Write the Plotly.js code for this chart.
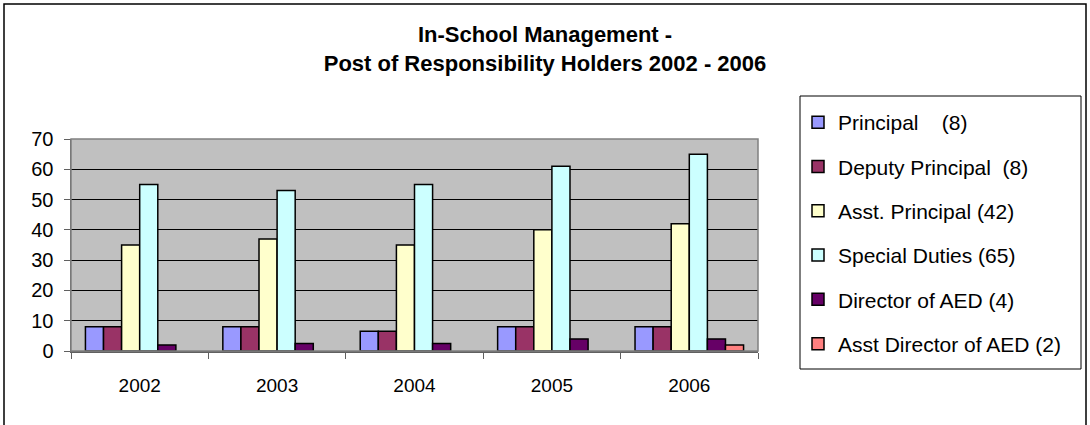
<!DOCTYPE html>
<html>
<head>
<meta charset="utf-8">
<script src="https://cdn.plot.ly/plotly-3.0.1.min.js"></script>
<style>html,body{margin:0;padding:0;background:#fff;}</style>
</head>
<body>
<div id="chart" style="width:1090px;height:425px;"></div>
<script>
const years = ['2002', '2003', '2004', '2005', '2006'];
const seriesNames = ['Principal    (8)', 'Deputy Principal  (8)', 'Asst. Principal (42)', 'Special Duties (65)', 'Director of AED (4)', 'Asst Director of AED (2)'];
const principal = [8, 8, 6.5, 8, 8];
const deputyPrincipal = [8, 8, 6.5, 8, 8];
const asstPrincipal = [35, 37, 35, 40, 42];
const specialDuties = [55, 53, 55, 61, 65];
const directorAED = [2, 2.5, 2.5, 4, 4];
const asstDirectorAED = [null, null, null, null, 2];
const colors = ['#9999FF', '#993366', '#FFFFCC', '#CCFFFF', '#660066', '#FF8080'];

const allSeries = [principal, deputyPrincipal, asstPrincipal, specialDuties, directorAED, asstDirectorAED];
const traces = allSeries.map((vals, i) => ({
  type: 'bar',
  name: seriesNames[i],
  x: years,
  y: vals,
  legendgroup: 'g' + i,
  marker: {color: colors[i], line: {color: '#000000', width: 1.5}},
  hoverinfo: 'x+y+name'
}));

// pixel helpers for plot area: x 71..758, y 139..351
const L = 71, R = 758, T = 139, B = 351;
const px = v => (v - L) / (R - L);
const py = v => (B - v) / (B - T);

const layout = {
  width: 1090, height: 425,
  margin: {l: L, r: 1090 - R, t: T, b: 425 - B, pad: 0},
  paper_bgcolor: '#ffffff',
  plot_bgcolor: '#C0C0C0',
  font: {family: 'Liberation Sans, Arial, sans-serif', color: '#000000', size: 19},
  title: {
    text: '<b>In-School Management -<br>Post of Responsibility Holders 2002 - 2006</b>',
    x: 0.5, xref: 'container', xanchor: 'center',
    y: 1 - 42 / 425, yref: 'container', yanchor: 'top',
    font: {family: 'Liberation Sans, Arial, sans-serif', size: 22, color: '#000000'}
  },
  barmode: 'group',
  bargap: 0.21,
  bargroupgap: 0,
  showlegend: true,
  legend: {
    x: px(798), xanchor: 'left',
    y: py(102), yanchor: 'top',
    maxheight: 1,
    bgcolor: 'rgba(0,0,0,0)', borderwidth: 0,
    traceorder: 'grouped', tracegroupgap: 14,
    font: {size: 21, family: 'Liberation Sans, Arial, sans-serif'}
  },
  xaxis: {
    type: 'category',
    showgrid: false,
    showline: true, linecolor: '#606060', linewidth: 1.5,
    ticks: 'outside', tickson: 'boundaries', ticklen: 6, tickcolor: '#606060',
    ticklabelstandoff: 17,
    tickfont: {size: 19},
    fixedrange: true
  },
  yaxis: {
    range: [0, 70],
    dtick: 10,
    showgrid: true, gridcolor: '#000000', gridwidth: 1,
    zeroline: false,
    showline: true, linecolor: '#606060', linewidth: 1.5,
    ticks: 'outside', ticklen: 6, tickcolor: '#606060',
    ticklabelstandoff: 6,
    tickfont: {size: 20},
    fixedrange: true
  },
  shapes: [
    {type: 'rect', xref: 'paper', yref: 'paper', x0: px(L), x1: px(R), y0: py(B), y1: py(T),
     line: {color: '#808080', width: 1.5}, fillcolor: 'rgba(0,0,0,0)'},
    {type: 'rect', xref: 'paper', yref: 'paper', x0: px(800), x1: px(1081), y0: py(369), y1: py(96),
     line: {color: '#000000', width: 1}, fillcolor: 'rgba(0,0,0,0)'},
    {type: 'rect', xref: 'paper', yref: 'paper', x0: px(4), x1: px(1086), y0: py(440), y1: py(4),
     line: {color: '#000000', width: 1.5}, fillcolor: 'rgba(0,0,0,0)'}
  ]
};

Plotly.newPlot('chart', traces, layout, {displayModeBar: false, staticPlot: true});
</script>
</body>
</html>
